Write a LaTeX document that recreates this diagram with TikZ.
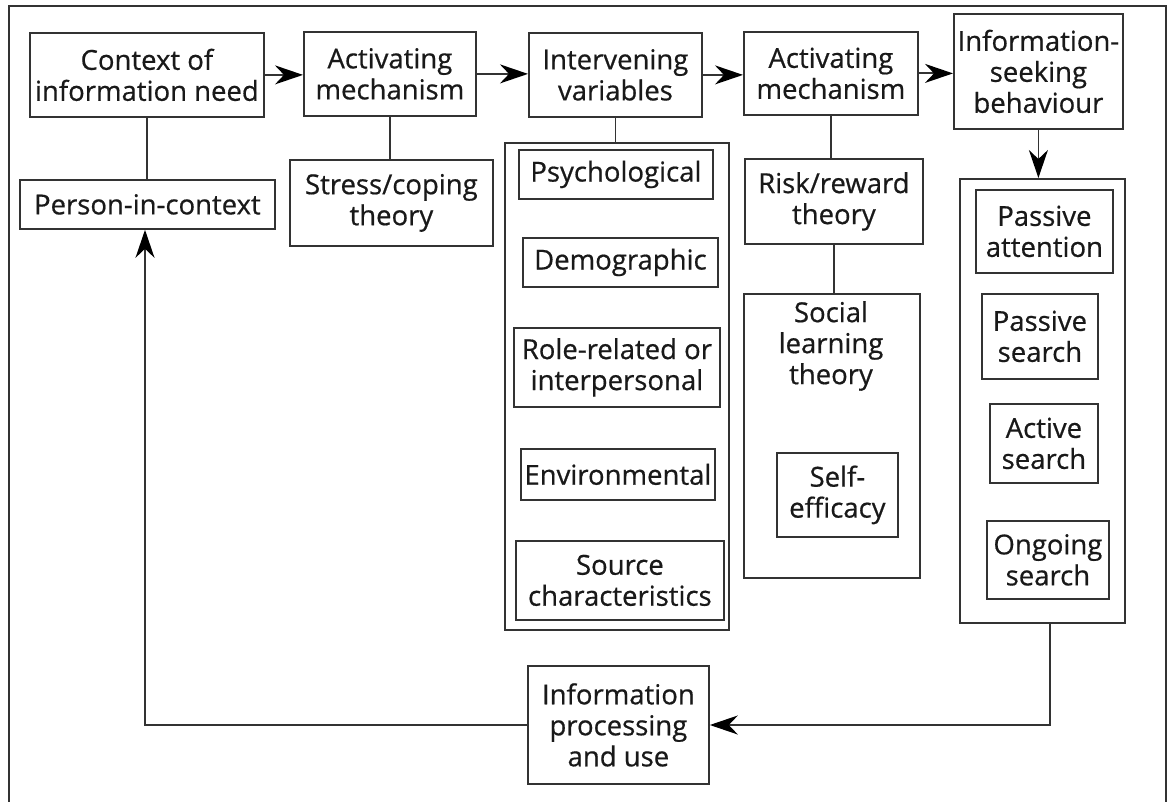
\documentclass[tikz,border=0pt]{standalone}
\usepackage{fontspec}
\setmainfont{Open Sans}
\newfontfamily\lblfont{Open Sans}[FakeBold=0.6]
\usetikzlibrary{arrows.meta}
\definecolor{linegray}{gray}{0.2}
\definecolor{inkgray}{gray}{0.1}
\begin{document}
\begin{tikzpicture}[x=1pt,y=-1pt,
  every node/.style={font=\lblfont\fontsize{27.5}{31}\selectfont, text=inkgray},
  box/.style={draw=linegray, line width=1.8pt, inner sep=0pt, align=center, anchor=north west},
  link/.style={draw=linegray, line width=1.8pt},
  arr/.style={link, -{Stealth[length=28pt,width=19pt,inset=9pt,color=black]}},
  frame/.style={draw=linegray, line width=1.6pt}]
\useasboundingbox (0,0) rectangle (1169,802);

% outer frame, open at the bottom
\draw[frame] (9,802) -- (9,6) -- (1166,6) -- (1166,802);

% top row
\node[box, minimum width=234pt, minimum height=84pt] (ctx) at (29,32) {Context of\\information need};
\node[box, minimum width=172pt, minimum height=84pt] (act1) at (303,31) {Activating\\mechanism};
\node[box, minimum width=173pt, minimum height=84pt] (interv) at (528,32) {Intervening\\variables};
\node[box, minimum width=174pt, minimum height=83pt] (act2) at (743,31) {Activating\\mechanism};
\node[box, minimum width=169pt, minimum height=115pt] (seek) at (953,13) {Information-\\seeking\\behaviour};

% theories below the first mechanisms
\node[box, minimum width=255pt, minimum height=49pt] (person) at (19,179) {Person-in-context};
\node[box, minimum width=203pt, minimum height=86pt] (stress) at (289,159) {Stress/coping\\theory};

% intervening variables
\node[box, minimum width=224pt, minimum height=487pt] (ivcont) at (504,142) {};
\node[box, minimum width=194pt, minimum height=49pt] (psych) at (518,149) {Psychological};
\node[box, minimum width=195pt, minimum height=49pt] (demo) at (522,237) {Demographic};
\node[box, minimum width=206pt, minimum height=79pt] (role) at (513,327) {Role-related or\\interpersonal};
\node[box, minimum width=194pt, minimum height=51pt] (env) at (520,448) {Environmental};
\node[box, minimum width=208pt, minimum height=79pt] (source) at (515,540) {Source\\characteristics};

% second mechanism theories
\node[box, minimum width=178pt, minimum height=85pt] (risk) at (744,158) {Risk/reward\\theory};
\node[box, minimum width=176pt, minimum height=284pt] (social) at (743,293) {};
\node[align=center, inner sep=0pt, anchor=center] (socialtxt) at (831,346) {Social\\learning\\theory};
\node[box, minimum width=121pt, minimum height=84pt] (self) at (776,452) {Self-\\efficacy};

% kinds of information seeking
\node[box, minimum width=165pt, minimum height=444pt] (seekcont) at (959,178) {};
\node[box, minimum width=137pt, minimum height=83pt] (pattn) at (975,189) {Passive\\attention};
\node[box, minimum width=116pt, minimum height=85pt] (psearch) at (981,293) {Passive\\search};
\node[box, minimum width=108pt, minimum height=79pt] (asearch) at (989,403) {Active\\search};
\node[box, minimum width=122pt, minimum height=78pt] (osearch) at (986,520) {Ongoing\\search};

% processing
\node[box, minimum width=181pt, minimum height=118pt] (proc) at (527,665) {Information\\processing\\and use};

% main chain
\draw[arr] (ctx.east) -- (act1.west |- ctx.east);
\draw[arr] (act1.east) -- (interv.west |- act1.east);
\draw[arr] (interv.east) -- (act2.west |- interv.east);
\draw[arr] (act2.east) -- (seek.west |- act2.east);
\draw[arr] (seek.south) -- (seek.south |- seekcont.north);

% links to theories and variables
\draw[link] (ctx.south) -- (ctx.south |- person.north);
\draw[link] (act1.south) -- (act1.south |- stress.north);
\draw[link] (interv.south) -- (interv.south |- ivcont.north);
\draw[link] (act2.south) -- (act2.south |- risk.north);
\draw[link] (risk.south) -- (risk.south |- social.north);

% feedback loop
\coordinate (fbR) at (1050,725);
\coordinate (fbL) at (145,725);
\draw[arr] (seekcont.south -| fbR) -- (fbR) -- (fbR -| proc.east);
\draw[arr] (fbL -| proc.west) -- (fbL) -- (fbL |- person.south);
\end{tikzpicture}
\end{document}
